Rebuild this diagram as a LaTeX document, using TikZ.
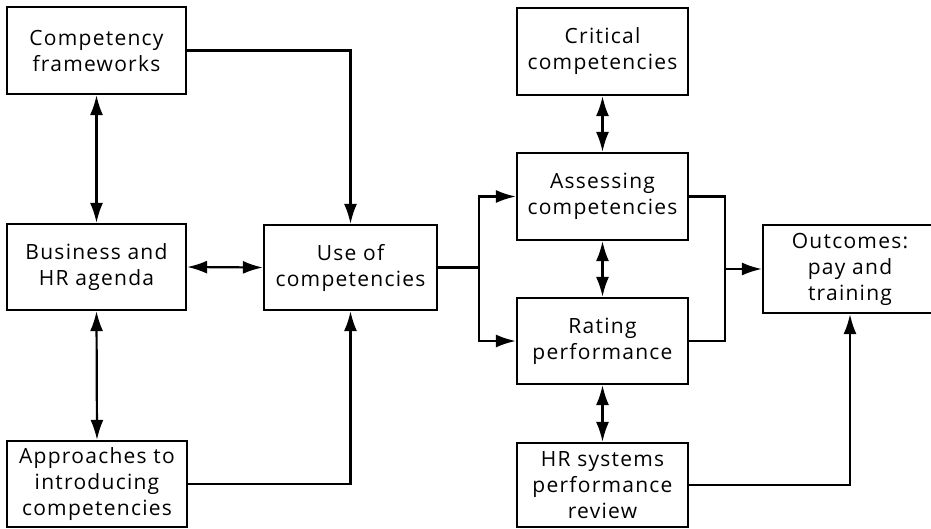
\documentclass[tikz,border=0pt]{standalone}
\usepackage{fontspec}
\setmainfont[LetterSpace=6]{Open Sans}
\usetikzlibrary{arrows.meta}
\begin{document}
\begin{tikzpicture}[x=1pt,y=-1pt,
  box/.style={draw,line width=2.2pt,inner sep=0pt,align=center,
    font=\fontsize{21}{26}\selectfont},
  con/.style={line width=2.2pt},
  arr/.style={con,-{Latex[length=20pt,width=13pt]}},
  darr/.style={con,{Latex[length=20pt,width=13pt]}-{Latex[length=20pt,width=13pt]}}]
\useasboundingbox (0,0) rectangle (931,528);
\node[box,minimum width=179pt,minimum height=87pt] (cf) at (96.5,50.5) {Competency\\frameworks};
\node[box,minimum width=179pt,minimum height=86pt] (bh) at (96.5,267) {Business and\\HR agenda};
\node[box,minimum width=180pt,minimum height=86pt] (ap) at (97,484) {Approaches to\\introducing\\competencies};
\node[box,minimum width=173pt,minimum height=85pt] (use) at (350.5,267.5) {Use of\\competencies};
\node[box,minimum width=171pt,minimum height=87pt] (cc) at (602.5,51.5) {Critical\\competencies};
\node[box,minimum width=171pt,minimum height=87pt] (ac) at (602.5,196.5) {Assessing\\competencies};
\node[box,minimum width=171pt,minimum height=86pt] (rp) at (602.5,341) {Rating\\performance};
\node[box,minimum width=171pt,minimum height=84pt] (hr) at (602.5,485) {HR systems\\performance\\review};
\node[box,minimum width=174pt,minimum height=88pt] (out) at (850,269) {Outcomes:\\pay and\\training};

\draw[darr] (cf.south) -- (bh.north);
\draw[darr] (bh.south) -- (ap.north);
\draw[darr] (bh.east) -- (use.west);
\draw[arr] (cf.east) -| (use.north);
\draw[arr] (ap.east) -| (use.south);
\draw[darr] (cc.south) -- (ac.north);
\draw[darr] (ac.south) -- (rp.north);
\draw[darr] (rp.south) -- (hr.north);
\draw[con] (use.east) -- ++(41,0) coordinate (j1);
\draw[arr] (j1) |- (ac.west);
\draw[arr] (j1) |- (rp.west);
\draw[con] (ac.east) -- ++(36,0) coordinate (j2) |- (rp.east);
\draw[arr] (j2 |- out.west) -- (out.west);
\draw[arr] (hr.east) -| (out.south);
\end{tikzpicture}
\end{document}
